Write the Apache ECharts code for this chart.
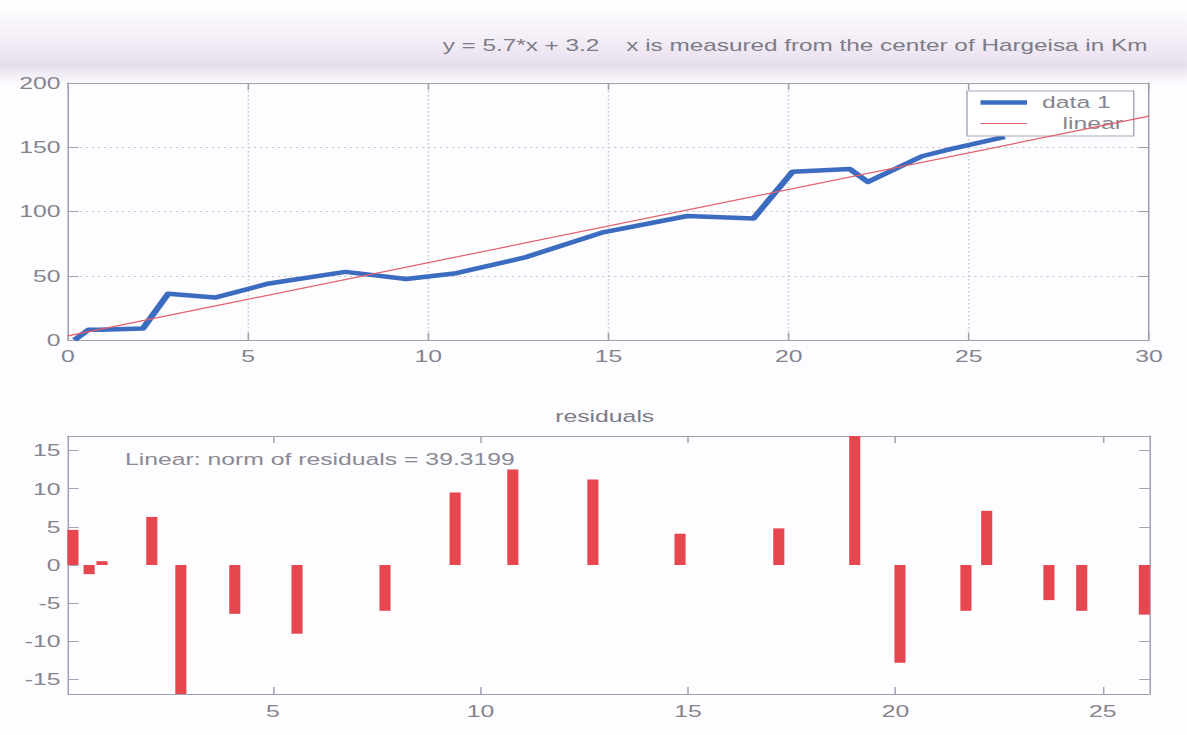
<!DOCTYPE html>
<html>
<head>
<meta charset="utf-8">
<script src="https://cdn.jsdelivr.net/npm/echarts@6/dist/echarts.min.js"></script>
<style>
  html, body { margin: 0; padding: 0; background: #fdfcfe; overflow: hidden; }
  /* the figure is laid out on a narrower canvas and widened to the page */
  #chart { width: 791px; height: 735px; transform: scaleX(1.5006); transform-origin: 0 0; }
</style>
</head>
<body>
<div id="chart"></div>
<script>
// distance from the centre of Hargeisa (km) and observed values
const distKm = [0.18, 0.57, 0.88, 2.08, 2.78, 4.08, 5.58, 7.70, 9.39, 10.78,
                12.71, 14.81, 17.19, 19.02, 20.11, 21.70, 22.20, 23.70, 24.49, 26.00];
const observed = [0, 8, 8, 9, 36, 33, 44, 53, 47.5, 52,
                  64.5, 83.5, 96.5, 94.5, 131, 133, 123, 143, 148.5, 158];
// linear fit y = 5.7*x + 3.2, end points over the plotted range
const fitX = [0, 30];
const fitY = [3.2, 174.2];
// residuals of the linear fit
const residuals = [4.6, -1.2, 0.5, 6.3, -16.9, -6.4, -9.0, -6.0, 9.5, 12.5,
                   11.2, 4.1, 4.8, 16.9, -12.8, -6.0, 7.1, -4.6, -6.0, -6.5];
const residTicks = [-15, -10, -5, 0, 5, 10, 15];
const residXTicks = [5, 10, 15, 20, 25];

const FONT = '"Liberation Sans", Arial, Helvetica, sans-serif';
const AXIS = '#a09fb6';
const LABEL = '#85848f';
const GRIDC = '#c6c4d0';
const BLUE = '#3b6cc0';
const RED_LINE = '#e3606b';

const chart = echarts.init(document.getElementById('chart'), null, { renderer: 'svg' });

function boxAxis(extra) {
  return Object.assign({
    type: 'value',
    axisLine: { show: true, onZero: false, lineStyle: { color: AXIS, width: 1 } },
    axisTick: { show: true, inside: true, length: 7, lineStyle: { color: AXIS } },
    axisLabel: { show: false },
    splitLine: { show: false }
  }, extra);
}
const labelStyle = { show: true, color: LABEL, fontSize: 16.5, fontFamily: FONT, margin: 7 };
const dotted = { show: true, lineStyle: { color: GRIDC, type: [1.5, 2.5], width: 1 } };

chart.setOption({
  animation: false,
  backgroundColor: '#fdfcfe',
  grid: [
    { left: 45.3, right: 25.3, top: 83, height: 257 },
    { left: 45.3, right: 24.8, top: 436, height: 258 }
  ],
  xAxis: [
    boxAxis({ gridIndex: 0, position: 'bottom', min: 0, max: 30, interval: 5,
              axisLabel: Object.assign({}, labelStyle, { margin: 8 }), splitLine: dotted }),
    boxAxis({ gridIndex: 0, position: 'top', min: 0, max: 30, interval: 5 }),
    boxAxis({ gridIndex: 1, position: 'bottom', min: 0.06, max: 26.13,
              axisLabel: Object.assign({}, labelStyle, { margin: 9, customValues: residXTicks }),
              axisTick: { show: true, inside: true, length: 7, lineStyle: { color: AXIS }, customValues: residXTicks } }),
    boxAxis({ gridIndex: 1, position: 'top', min: 0.06, max: 26.13,
              axisTick: { show: true, inside: true, length: 7, lineStyle: { color: AXIS }, customValues: residXTicks } })
  ],
  yAxis: [
    boxAxis({ gridIndex: 0, position: 'left', min: 0, max: 200, interval: 50,
              axisLabel: Object.assign({}, labelStyle, { margin: 5 }), splitLine: dotted }),
    boxAxis({ gridIndex: 0, position: 'right', min: 0, max: 200, interval: 50 }),
    boxAxis({ gridIndex: 1, position: 'left', min: -16.9, max: 16.9,
              axisLabel: Object.assign({}, labelStyle, { margin: 5, customValues: residTicks }),
              axisTick: { show: true, inside: true, length: 7, lineStyle: { color: AXIS }, customValues: residTicks } }),
    boxAxis({ gridIndex: 1, position: 'right', min: -16.9, max: 16.9,
              axisTick: { show: true, inside: true, length: 7, lineStyle: { color: AXIS }, customValues: residTicks } })
  ],
  legend: {
    orient: 'vertical',
    left: 644.4, top: 91,
    padding: [3, 7, 4, 9],
    itemWidth: 31, itemHeight: 18, itemGap: 4,
    backgroundColor: '#ffffff',
    borderColor: '#a9a8b8', borderWidth: 1, borderRadius: 0,
    textStyle: { color: LABEL, fontSize: 16.5, fontFamily: FONT, padding: [0, 0, 0, 5] },
    data: [
      { name: 'data 1', icon: 'path://M0,0 H31 V4.5 H0 Z', itemStyle: { color: BLUE } },
      { name: '   linear', icon: 'path://M0,0 H31 V1.2 H0 Z', itemStyle: { color: RED_LINE } }
    ]
  },
  graphic: [
    {
      type: 'rect', silent: true, z: -10,
      shape: { x: 0, y: 10, width: 791, height: 75 },
      style: {
        fill: {
          type: 'linear', x: 0, y: 0, x2: 0, y2: 1,
          colorStops: [
            { offset: 0, color: 'rgba(232,222,238,0)' },
            { offset: 0.45, color: 'rgba(232,222,238,0.55)' },
            { offset: 0.75, color: 'rgba(226,214,232,0.8)' },
            { offset: 1, color: 'rgba(232,222,238,0)' }
          ]
        }
      }
    },
    {
      type: 'text', x: 295, y: 45,
      style: { text: 'y = 5.7*x + 3.2    x is measured from the center of Hargeisa in Km',
               fill: '#7c7b86', font: '16.2px ' + FONT, align: 'left', verticalAlign: 'middle' }
    },
    {
      type: 'text', x: 403, y: 416,
      style: { text: 'residuals', fill: '#7c7b86', font: '16.5px ' + FONT, align: 'center', verticalAlign: 'middle' }
    },
    {
      type: 'text', x: 83.3, y: 459,
      style: { text: 'Linear: norm of residuals = 39.3199', fill: '#8a8994', font: '16.5px ' + FONT,
               align: 'left', verticalAlign: 'middle' }
    }
  ],
  series: [
    {
      name: 'data 1', type: 'line', xAxisIndex: 0, yAxisIndex: 0,
      data: distKm.map((x, i) => [x, observed[i]]),
      showSymbol: false, symbol: 'none',
      lineStyle: { color: BLUE, width: 4.5, join: 'round' },
      itemStyle: { color: BLUE }, z: 3
    },
    {
      name: '   linear', type: 'line', xAxisIndex: 0, yAxisIndex: 0,
      data: fitX.map((x, i) => [x, fitY[i]]),
      showSymbol: false, symbol: 'none',
      lineStyle: { color: RED_LINE, width: 1.2 },
      itemStyle: { color: RED_LINE }, z: 4
    },
    {
      name: 'residuals', type: 'bar', xAxisIndex: 2, yAxisIndex: 2,
      data: distKm.map((x, i) => [x, residuals[i]]),
      barWidth: 7.4,
      itemStyle: { color: '#e6474f' }
    }
  ]
});
</script>
</body>
</html>
